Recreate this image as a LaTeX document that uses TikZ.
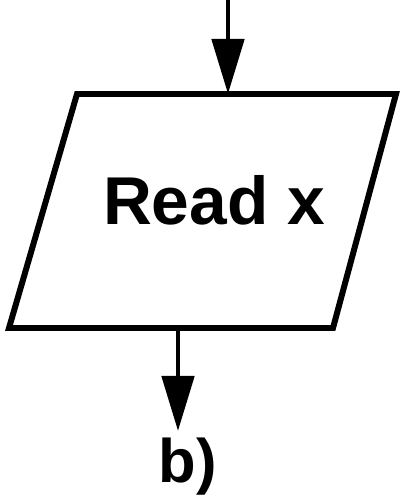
\documentclass[tikz,border=0pt]{standalone}
\usepackage{fontspec}
\setmainfont{Liberation Sans}
\usepackage{tikz}
\usetikzlibrary{positioning,arrows.meta}

\begin{document}
\begin{tikzpicture}
  \tikzstyle{io}=[line width=3.4pt,line join=miter]
  \tikzstyle{flow}=[line width=2.8pt,-{Triangle[length=11mm,width=6.4mm]}]
  \useasboundingbox (0,0) rectangle (8,10.08);
  % input box corners
  \coordinate (tl) at (1.54,8.2);
  \coordinate (tr) at (7.92,8.2);
  \coordinate (br) at (6.66,3.52);
  \coordinate (bl) at (0.18,3.52);
  \draw[io] (tl) -- (tr) -- (br) -- (bl) -- cycle;
  \node[font=\fontsize{38.5}{42}\selectfont\bfseries,anchor=base] (rd) at (4.28,5.58) {Read x};
  % flow in / out
  \coordinate (src) at (4.56,10.2);
  \coordinate (in) at (4.56,8.2);
  \coordinate (out) at (3.56,3.52);
  \coordinate (dst) at (3.56,1.46);
  \draw[flow] (src) -- (in);
  \draw[flow] (out) -- (dst);
  \node[font=\fontsize{35}{40}\selectfont\bfseries,anchor=base] (lbl) at (3.76,0.42) {b)};
\end{tikzpicture}
\end{document}
